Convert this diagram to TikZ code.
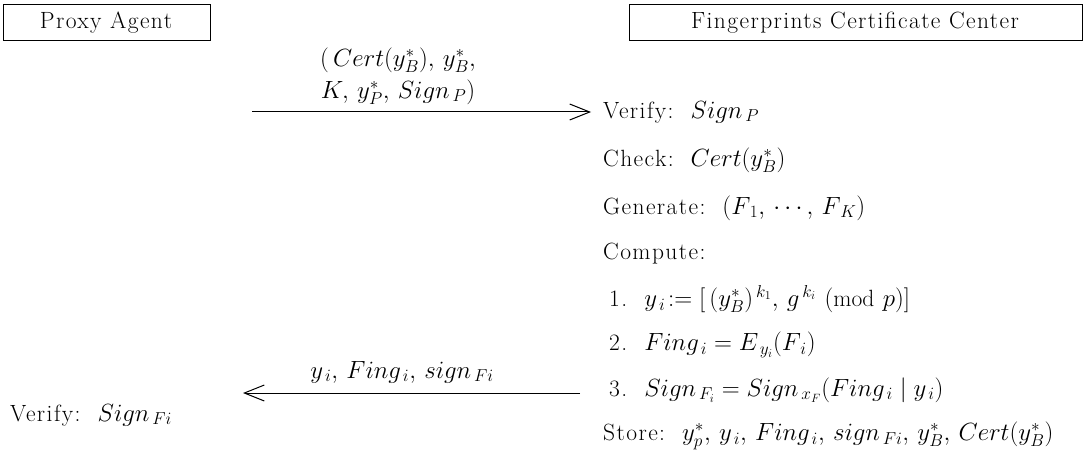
\documentclass[tikz,border=0pt]{standalone}
\usepackage{fontspec}
\setmainfont{Latin Modern Roman}[LetterSpace=6]
\usetikzlibrary{arrows.meta}
\newcommand{\cm}{,\,}
\begin{document}
\begin{tikzpicture}[x=1pt,y=-1pt,
  every node/.style={font=\fontsize{23.5}{27}\selectfont, inner sep=0pt},
  party/.style={draw, line width=0.9pt},
  txt/.style={anchor=west},
  msg/.style={-{Straight Barb[length=20pt,width=16pt,line width=1pt]}, line width=1pt},
  lbl/.style={align=center, font=\fontsize{23.5}{27}\selectfont}]
\useasboundingbox (0,0) rectangle (1085,468);
% parties
\draw[party] (3,4) rectangle (210,40);
\node (pa) at (106,23) {Proxy Agent};
\draw[party] (629,4) rectangle (1082,40);
\node (fc) at (855,23) {Fingerprints Certificate Center};
% right column
\node[txt] (v1) at (603,112) {Verify:\ \ $Sign_{\,P}$};
\node[txt] (ck) at (603,160) {Check:\ \ $Cert(y^*_B)$};
\node[txt] (gn) at (603,208) {Generate:\ \ $(F_{\,1}\cm \cdots\cm F_{\,K})$};
\node[txt] (cp) at (603,254) {Compute:};
\node[txt] (s1) at (609,299) {1.\ \ $y_{\,i}\!:=[\,(y^*_B)^{\,k_1}\cm g^{\,k_i}\ (\mathrm{mod}\ p)]$};
\node[txt] (s2) at (609,345) {2.\ \ $Fing_{\,i}= E_{\,y_i}(F_{\,i})$};
\node[txt] (s3) at (609,390) {3.\ \ $Sign_{\,F_i}= Sign_{\,x_F}(Fing_{\,i}\mid y_{\,i})$};
\node[txt] (st) at (603,436) {Store:\ \ $y^*_p\cm y_{\,i}\cm Fing_{\,i}\cm sign_{\,Fi}\cm y^*_B\cm Cert(y^*_B)$};
% left
\node[txt] (v2) at (10,415) {Verify:\ \ $Sign_{\,Fi}$};
% messages
\coordinate (a1s) at (252,112);
\draw[msg] (a1s) -- ([xshift=-12pt]v1.west);
\node[lbl] (m1) at (398,76) {$(\,Cert(y^*_B)\cm y^*_B,$\\[5pt] $K\cm y^*_P\cm Sign_{\,P})$};
\coordinate (a2s) at (580,393);
\coordinate (a2e) at (243,393);
\draw[msg] (a2s) -- (a2e);
\node (m2) at (402,372) {$y_{\,i}\cm Fing_{\,i}\cm sign_{\,Fi}$};
\end{tikzpicture}
\end{document}
